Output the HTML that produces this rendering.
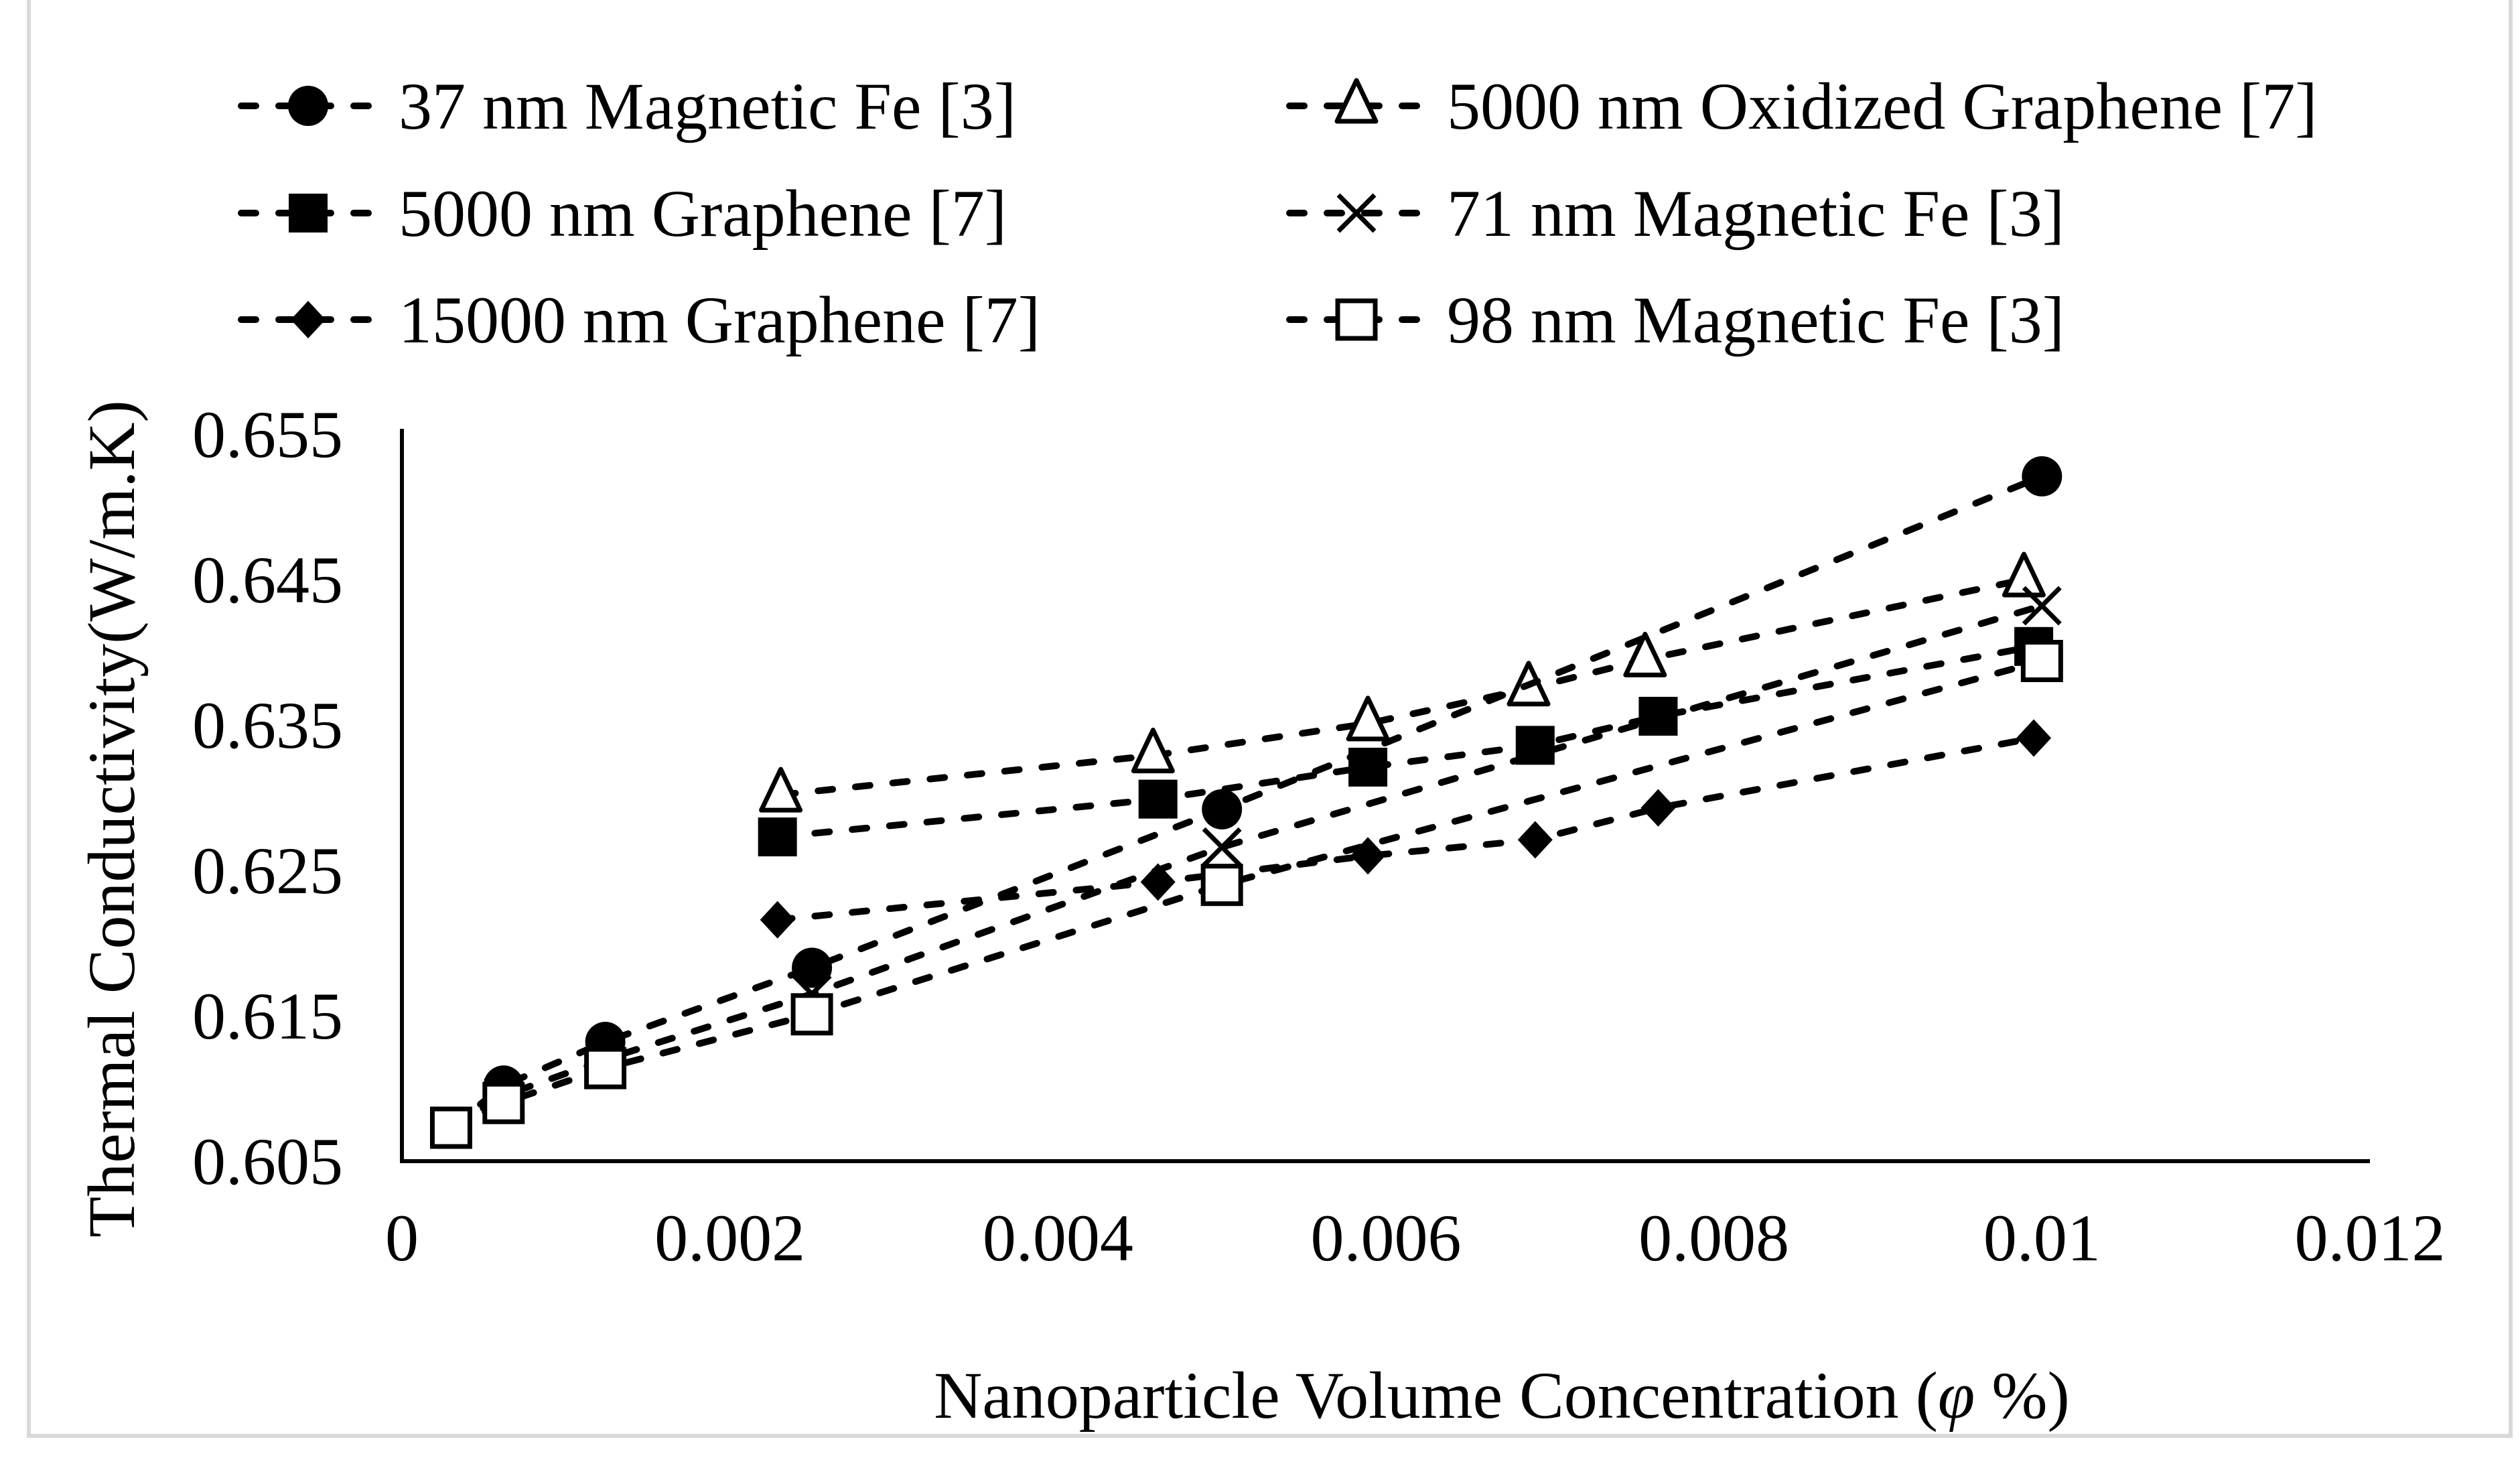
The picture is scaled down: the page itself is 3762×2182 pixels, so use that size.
<!DOCTYPE html>
<html><head><meta charset="utf-8"><style>
html,body{margin:0;padding:0;background:#fff;}
svg{display:block;font-family:"Liberation Serif",serif;}
</style></head><body>
<svg id="chart" width="3762" height="2182" viewBox="0 0 3762 2182" xmlns="http://www.w3.org/2000/svg">
<rect x="43" y="-10" width="3705" height="2153" fill="none" stroke="#d9d9d9" stroke-width="6"/>
<g id="legend"></g>
<g id="axes"></g>
<g id="series"></g>
<text x="2242" y="2116" font-size="100" text-anchor="middle">Nanoparticle Volume Concentration (<tspan font-style="italic">φ</tspan> %)</text>
<text transform="translate(200,1222) rotate(-90)" font-size="100" text-anchor="middle">Thermal Conductivity(W/m.K)</text>
</svg>
<script>
const xTicks = [0, 0.002, 0.004, 0.006, 0.008, 0.01, 0.012];
const xTickLabels = ["0", "0.002", "0.004", "0.006", "0.008", "0.01", "0.012"];
const yTicks = [0.605, 0.615, 0.625, 0.635, 0.645, 0.655];
const yTickLabels = ["0.605", "0.615", "0.625", "0.635", "0.645", "0.655"];
const seriesNames = ["37 nm Magnetic Fe [3]", "5000 nm Oxidized Graphene [7]", "5000 nm Graphene [7]", "71 nm Magnetic Fe [3]", "15000 nm Graphene [7]", "98 nm Magnetic Fe [3]"];
const seriesMarkers = ["circle", "triangle", "square", "x", "diamond", "opensquare"];
const feX = [0.0003, 0.00062, 0.00124, 0.0025, 0.005, 0.01];
const grX = [0.00231, 0.00458, 0.00589, 0.00687, 0.00758, 0.00989];
const grX2 = [0.00229, 0.00461, 0.00589, 0.00691, 0.00766, 0.00995];
const fe37Y = [0.6073, 0.6102, 0.6132, 0.6183, 0.6292, 0.6521];
const oxGrY = [0.6302, 0.6329, 0.6351, 0.6375, 0.6395, 0.6450];
const gr5000Y = [0.6273, 0.6299, 0.6321, 0.6336, 0.6356, 0.6404];
const fe71Y = [0.6073, 0.6095, 0.6120, 0.6165, 0.6266, 0.6432];
const gr15000Y = [0.6216, 0.6242, 0.6260, 0.6271, 0.6293, 0.6341];
const fe98Y = [0.6073, 0.6090, 0.6114, 0.6151, 0.6240, 0.6394];

const NS = "http://www.w3.org/2000/svg";
const X0 = 600, X1 = 3538, Y0 = 1733, Y1 = 648;
function xs(v){ return X0 + (v - 0) / 0.012 * (X1 - X0); }
function ys(v){ return Y0 - (v - 0.605) / 0.05 * (Y0 - Y1); }
function mk(tag, attrs, parent){ const e = document.createElementNS(NS, tag); for (const k in attrs) e.setAttribute(k, attrs[k]); parent.appendChild(e); return e; }

const axes = document.getElementById("axes");
let ax = mk("line", {x1: X0, y1: 640, x2: X0, y2: Y0, stroke: "#000", "stroke-width": 6}, axes);


let axx = mk("line", {x1: X0 - 3, y1: Y0, x2: X1, y2: Y0, stroke: "#000", "stroke-width": 6}, axes);


xTicks.forEach((t, i) => {
  const e = mk("text", {x: xs(t), y: 1881, "font-size": 100, "text-anchor": "middle"}, axes);
  e.textContent = xTickLabels[i];
  
  
});
yTicks.forEach((t, i) => {
  const e = mk("text", {x: 512, y: ys(t) + 34, "font-size": 100, "text-anchor": "end"}, axes);
  e.textContent = yTickLabels[i];
  
  
});

function marker(type, cx, cy, parent){
  let e;
  if (type === "circle") e = mk("circle", {cx: cx, cy: cy, r: 30, fill: "#000"}, parent);
  else if (type === "square") e = mk("rect", {x: cx - 29, y: cy - 29, width: 58, height: 58, fill: "#000"}, parent);
  else if (type === "opensquare") e = mk("rect", {x: cx - 28, y: cy - 28, width: 56, height: 56, fill: "#fff", stroke: "#000", "stroke-width": 7}, parent);
  else if (type === "triangle") e = mk("polygon", {points: `${cx},${cy-38} ${cx+29},${cy+23} ${cx-29},${cy+23}`, fill: "#fff", stroke: "#000", "stroke-width": 7, "stroke-linejoin": "round"}, parent);
  else if (type === "diamond") e = mk("polygon", {points: `${cx},${cy-28} ${cx+26},${cy} ${cx},${cy+28} ${cx-26},${cy}`, fill: "#000"}, parent);
  else e = mk("path", {d: `M${cx-27},${cy-27}L${cx+27},${cy+27}M${cx+27},${cy-27}L${cx-27},${cy+27}`, stroke: "#000", "stroke-width": 7, fill: "none"}, parent);
  return e;
}

const allX = [feX, grX, grX2, feX, grX2, feX];
const allY = [fe37Y, oxGrY, gr5000Y, fe71Y, gr15000Y, fe98Y];
const sg = document.getElementById("series");
const order = [4, 2, 1, 3, 0, 5];
order.forEach(si => {
  const g = mk("g", {}, sg);
  
  
  const pts = allX[si].map((x, i) => xs(x) + "," + ys(allY[si][i])).join(" ");
  const pl = mk("polyline", {points: pts, fill: "none", stroke: "#000", "stroke-width": 10, "stroke-dasharray": "22 34", "stroke-linecap": "round"}, g);
  
  
  allX[si].forEach((x, i) => {
    const m = marker(seriesMarkers[si], xs(x), ys(allY[si][i]), g);
    
    
  });
});

const lg = document.getElementById("legend");
const rowsY = [158, 318, 477];
seriesNames.forEach((name, i) => {
  const col = i % 2, row = Math.floor(i / 2);
  const lx = col === 0 ? 355 : 1920;
  const y = rowsY[row];
  const g = mk("g", {}, lg);
  
  
  const l = mk("line", {x1: lx + 5, y1: y, x2: lx + 205, y2: y, stroke: "#000", "stroke-width": 10, "stroke-dasharray": "22 34", "stroke-linecap": "round"}, g);
  
  
  const m = marker(seriesMarkers[i], lx + 105, y, g);
  
  
  const t = mk("text", {x: lx + 240, y: y + 34, "font-size": 100}, g);
  t.textContent = name;
  
  
});
</script>
</body></html>
